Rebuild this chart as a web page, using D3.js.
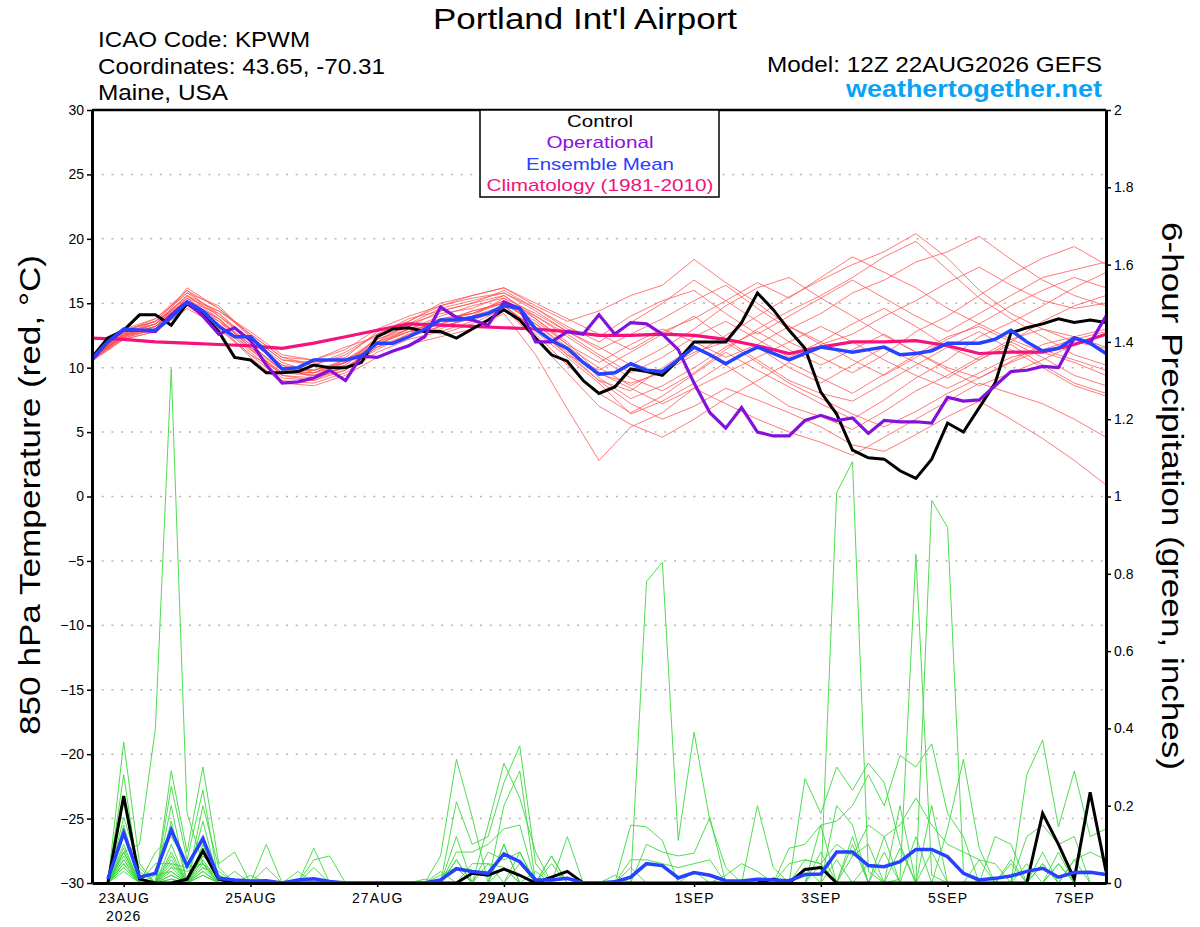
<!DOCTYPE html>
<html>
<head>
<meta charset="utf-8">
<script src="https://cdn.jsdelivr.net/npm/d3@7"></script>
<style>
  body { margin: 0; background: #fff; }
  svg text { font-family: "Liberation Sans", Arial, Helvetica, sans-serif; }
</style>
</head>
<body>
<svg id="chart" width="1200" height="927"></svg>
<script>
// Run start (first temperature value), 12Z 22AUG2026
var runStart = Date.UTC(2026, 7, 22, 12);

// 850 hPa temperature, 6-hourly from 22/12Z
var controlTemp = [10.8,12.3,12.9,14.1,14.1,13.3,15.0,14.1,12.8,10.8,10.6,9.6,9.6,9.7,10.2,10.0,10.0,10.4,12.4,13.0,13.1,
  12.8,12.8,12.3,13.0,13.7,14.5,13.7,12.3,11.0,10.5,9.0,8.0,8.5,9.9,9.7,9.4,10.6,12.0,12.0,
  12.0,13.5,15.8,14.5,12.9,11.5,8.1,6.4,3.6,3.0,2.9,2.0,1.4,2.9,5.7,5.0,6.9,8.8,12.7,13.1,13.4,13.8,13.5,13.7,13.5];
var operationalTemp = [10.6,12.0,12.9,12.9,12.8,14.1,15.1,14.0,12.6,13.1,12.1,10.2,8.8,8.9,9.2,9.8,9.0,10.9,10.8,11.3,11.7,
  12.4,14.7,13.9,13.7,13.3,15.1,14.6,12.0,12.0,12.8,12.6,14.1,12.6,13.5,13.4,12.6,11.4,8.8,6.5,
  5.3,6.9,5.0,4.7,4.7,5.9,6.3,5.9,6.1,4.9,5.9,5.8,5.8,5.7,7.7,7.4,7.5,8.6,9.7,9.8,10.1,10.0,12.3,11.9,14.0];
var meanTemp = [10.7,12.0,13.0,12.9,12.9,13.9,15.1,14.4,13.2,12.4,12.4,11.2,9.9,10.0,10.6,10.6,10.6,10.9,11.9,11.9,12.4,
  13.0,13.7,13.7,13.9,14.2,14.8,14.6,13.0,12.1,11.5,10.4,9.5,9.6,10.3,9.8,9.7,10.6,11.6,11.0,
  10.3,11.0,11.6,11.1,10.6,11.1,11.6,11.4,11.2,11.4,11.6,11.0,11.1,11.3,11.9,11.9,11.9,12.2,12.9,12.0,11.3,11.5,12.3,11.9,11.1];
// climatology, 12-hourly from 22/12Z
var climoTemp = [12.3,12.2,12.0,11.9,11.8,11.7,11.5,11.9,12.4,12.9,13.4,13.3,13.2,13.1,13.0,12.8,12.5,12.5,12.6,12.5,
  12.2,11.7,11.1,11.6,12.0,12.0,12.1,11.7,11.1,11.2,11.2,11.8,12.6];

// ensemble members temperature, 12-hourly from 22/12Z
var memberTemp = [
  [10.8,12.6,13.2,15.6,13.8,11.5,9.6,9.8,10.4,12.2,13.0,13.8,14.2,15.2,13.8,12.0,9.5,8.8,9.6,11.0,12.5,14.0,15.5,16.8,18.0,19.0,20.4,18.5,16.0,14.2,13.0,12.0,11.5],
  [10.6,12.8,13.6,15.2,14.2,12.0,10.2,9.2,9.8,11.6,12.4,13.2,13.8,14.6,12.6,10.2,8.0,6.5,7.8,9.5,11.2,9.8,8.5,7.2,6.0,7.5,9.2,10.6,12.4,13.5,14.8,16.2,17.4],
  [11.0,12.4,13.0,16.2,14.6,12.6,10.8,10.2,11.2,12.6,13.8,14.4,15.0,16.0,14.6,13.2,12.0,13.5,15.0,16.8,15.2,13.6,12.0,10.8,9.6,11.0,12.8,14.0,15.6,17.2,18.5,19.4,18.0],
  [10.5,12.2,12.8,14.8,13.2,11.0,9.0,8.8,9.6,11.2,12.2,12.8,13.6,14.8,13.0,11.2,9.0,7.2,6.0,7.0,8.4,7.5,6.5,5.4,4.0,3.5,4.8,6.2,7.4,6.0,4.5,2.8,0.9],
  [10.9,13.0,13.8,15.8,14.8,12.4,10.6,10.4,10.8,12.8,13.6,14.8,15.4,15.8,14.4,12.8,11.6,10.2,11.5,13.0,14.8,16.2,17.0,15.4,14.0,12.5,11.2,10.0,9.2,10.5,11.8,12.4,13.0],
  [10.7,12.5,13.4,15.0,13.6,11.8,9.8,9.4,10.0,11.8,12.8,13.0,14.0,15.4,13.2,11.0,9.8,11.2,12.6,14.0,12.2,10.6,9.0,8.0,7.4,8.8,10.2,11.6,12.8,11.4,10.0,8.6,7.8],
  [10.6,12.9,13.6,16.0,14.0,12.2,10.4,9.6,10.6,12.0,13.4,14.2,14.6,15.6,14.0,12.4,10.8,9.2,8.2,9.6,11.4,13.0,14.4,15.6,17.0,18.6,19.8,17.6,15.4,13.8,12.4,11.0,10.2],
  [10.8,12.3,13.0,15.4,13.4,11.2,9.2,9.0,10.2,12.4,13.2,12.6,13.4,14.6,12.2,9.6,7.0,5.6,4.6,6.0,7.6,9.0,10.4,9.2,8.0,9.5,11.0,12.4,13.2,12.0,10.8,9.4,8.6],
  [10.9,12.7,13.4,15.6,14.4,12.8,11.0,10.6,11.6,12.4,13.6,15.0,15.6,16.2,14.8,13.6,14.4,15.6,16.4,18.4,16.6,15.0,13.2,11.8,12.6,14.0,15.2,16.6,17.8,16.4,15.2,14.6,15.0],
  [10.6,12.4,13.2,15.2,13.8,11.6,9.4,9.2,10.0,11.4,12.6,13.4,14.4,15.0,13.4,11.6,10.0,8.6,9.8,11.2,12.0,10.4,8.8,7.6,6.4,5.4,6.6,8.0,9.2,10.4,11.4,10.6,9.8],
  [10.7,12.6,13.6,15.8,14.2,12.2,10.0,9.8,10.4,11.8,13.0,14.0,14.8,15.4,14.2,12.8,11.4,12.6,13.8,15.2,16.4,14.6,13.0,14.2,15.8,16.8,18.2,19.0,20.2,18.4,16.8,15.6,14.8],
  [10.8,12.5,13.2,15.0,13.0,11.0,9.6,9.6,10.2,12.0,12.8,13.6,14.2,15.0,13.6,11.8,9.2,7.6,8.6,10.0,11.6,12.8,11.4,10.2,11.4,12.6,11.2,9.8,8.6,9.6,10.6,11.8,12.6],
  [10.6,12.2,12.8,14.6,13.2,10.8,8.8,8.6,9.4,10.8,11.8,12.4,13.0,14.2,11.0,6.8,2.8,5.4,6.5,8.4,7.2,6.0,5.0,4.2,3.2,4.6,6.0,7.4,8.8,8.0,7.2,6.0,4.6],
  [11.0,12.8,13.8,16.0,14.6,12.4,10.6,10.2,11.0,12.6,13.4,14.6,15.2,15.8,14.6,13.0,12.4,14.0,15.2,16.0,14.2,12.6,14.0,15.4,16.8,15.4,14.0,12.8,14.2,15.6,17.0,17.6,18.2],
  [10.5,12.6,13.0,15.4,13.6,11.4,9.4,9.0,9.8,11.6,12.4,13.2,13.8,14.8,13.0,11.0,9.0,8.2,10.0,11.6,10.2,8.6,7.0,6.2,5.2,6.6,8.2,9.4,10.8,12.2,13.0,12.4,11.6],
  [10.7,12.4,13.2,15.2,13.8,11.8,9.8,9.4,10.0,11.6,12.6,13.8,14.2,15.2,14.0,12.6,11.0,9.6,10.8,12.4,13.6,12.2,10.8,12.0,13.4,14.6,13.2,11.6,10.6,12.0,13.6,14.8,15.6],
  [10.8,12.7,13.4,15.6,14.0,12.0,10.2,9.8,10.6,12.2,13.2,14.4,15.0,15.6,13.8,11.8,10.4,11.8,13.0,12.0,10.8,11.8,13.2,12.0,10.6,9.4,10.8,12.2,13.4,12.2,11.2,10.4,9.4],
  [10.6,12.3,13.0,15.0,13.4,11.4,9.6,9.4,10.4,12.0,13.0,13.4,14.0,14.8,12.8,10.8,8.8,6.4,7.4,8.8,10.4,11.6,10.0,8.8,10.2,11.6,10.4,9.2,10.6,11.8,10.2,8.8,8.0],
  [10.9,12.9,13.6,15.4,14.4,12.6,10.8,10.6,11.4,13.0,14.0,14.8,15.6,16.2,15.0,13.8,12.6,11.4,12.8,13.8,15.2,16.6,15.4,17.0,18.6,17.4,16.2,14.6,13.4,14.8,16.0,17.0,16.2],
  [10.7,12.5,13.4,15.2,13.8,11.6,9.8,9.6,10.4,11.8,12.8,13.6,14.4,15.0,13.4,11.4,9.6,8.4,7.2,8.4,9.6,10.8,12.0,13.2,12.0,10.6,9.4,8.4,9.6,10.8,11.4,12.2,12.8]
];

// 6-hour precipitation (inches), 6-hourly from 22/18Z
var controlPrecip = [0, .225,.01,0,0, .01,.083,.01,0, 0,0,0,0, 0,0,0,0, 0,0,0,0, 0,0,.025,.02, .036,.02,0,.015, .03,0,0,0,
  0,0,0,0, 0,0,0,0, 0,.01,0,.035, .04,0,0,0, 0,0,0,0, 0,0,0,0, 0,0,.18,.1, .01,.235,.03];
var meanPrecip = [.01, .13,.015,.025,.137, .044,.115,.012,.008, .005,.006,0,.008, .011,.004,0,0, 0,0,0,0, .008,.037,.03,.025,
  .075,.055,.008,.008, .012,0,0,.003, .015,.05,.045,.013, .027,.02,.006,.005, .01,.008,.006,.022, .023,.08,.08,.045,
  .042,.055,.087,.087, .068,.025,.008,.012, .018,.03,.038,.015, .027,.028,.022];
var memberPrecip = [
  [0, .08,.1,.4,1.33, .18,.05,0,0, 0,0,0,0, 0,0,0,0, 0,0,0,0, 0,.06,0,0, .1,0,0,0, 0,0,0,0, .04,0,0,0, 0,0,0,0, 0,0,0,0, 0,.06,0,0, 0,0,.12,0, 0,0,0,0, 0,.05,0,0, 0,0,0],
  [0, .365,.05,0,.29, .08,.3,.05,.08, 0,0,0,0, 0,0,0,0, 0,0,0,0, .07,.32,.17,0, .04,0,0,0, 0,0,0,0, 0,0,0,0, 0,0,0,0, 0,0,0,.04, 0,0,0,0, .08,0,0,0, 0,0,0,0, 0,0,.08,0, 0,0,0],
  [0, .28,0,0,.25, .06,.24,0,0, 0,.1,0,0, 0,0,0,0, 0,0,0,0, 0,0,0,.15, .31,.22,.08,0, .12,0,0,0, 0,0,0,0, 0,0,0,0, 0,0,0,0, .08,0,.12,0, 0,.2,0,.2, 0,0,0,0, 0,.28,.37,.145, .29,.12,.14],
  [0, .21,0,0,.2, 0,.2,.04,0, 0,0,0,0, .09,0,0,0, 0,0,0,0, 0,.21,.1,.12, .26,.355,.05,0, 0,0,0,0, .15,.145,.11,0, 0,0,0,0, 0,0,0,.27, .18,.3,.24,.31, .26,.1,0,0, 0,0,0,0, 0,0,0,0, 0,0,0],
  [0, .17,.04,0,.16, 0,.16,0,0, 0,0,0,0, .06,.07,0,0, 0,0,0,0, 0,.12,0,0, .2,.29,0,.07, 0,0,0,0, 0,.78,.83,.11, .39,.16,.04,0, 0,0,0,0, 0,0,0,0, 0,0,0,0, .14,.32,.09,0, 0,0,0,0, 0,0,0],
  [0, .15,0,.08,.12, .05,.12,0,0, 0,0,0,0, 0,0,0,0, 0,0,0,0, 0,.08,.08,.1, .14,.15,0,0, 0,0,0,0, 0,0,0,0, 0,0,0,0, .2,.04,0,0, 0,1.01,1.09,.03, 0,0,0,0, 0,0,0,.12, .1,0,0,0, 0,0,0],
  [0, .13,0,0,.1, 0,.1,0,0, .02,0,0,0, 0,0,0,0, 0,0,0,0, 0,0,0,.08, .06,.08,0,.05, 0,0,0,0, 0,.1,.08,.07, .077,.17,0,0, 0,0,.09,.1, .15,.16,.2,.28, .2,.33,.3,.36, .18,.12,0,0, 0,0,0,0, 0,0,0],
  [0, .12,.03,0,.08, 0,.09,0,0, 0,0,0,.03, 0,0,0,0, 0,0,0,0, 0,0,.05,.05, .04,0,.03,0, 0,0,0,0, .06,.06,.05,.04, .05,.06,0,0, 0,0,0,0, 0,0,0,0, 0,.01,.85,.02, 0,0,0,0, 0,0,0,0, .06,.08,.06],
  [0, .1,0,0,.07, 0,.08,0,.03, 0,0,0,0, .04,0,0,0, 0,0,0,0, 0,.04,0,0, 0,.05,0,0, .03,0,0,.02, 0,0,0,0, 0,0,0,0, 0,0,0,0, 0,0,0,0, 0,0,0,.99, .92,.03,0,0, 0,.12,.15,.1, .12,0,0],
  [0, .09,0,0,.06, 0,.07,.03,0, 0,0,0,0, 0,0,0,0, 0,0,0,0, .03,0,0,0, 0,0,0,0, 0,0,0,0, 0,0,0,0, 0,0,0,0, 0,0,.05,.06, .05,.1,.07,.15, .12,.15,.22,.15, .1,.08,.06,.05, 0,0,0,0, 0,0,0],
  [0, .08,0,.05,.05, 0,.06,0,0, 0,.04,0,0, 0,0,0,0, 0,0,0,0, .02,.04,0,.05, 0,0,0,0, 0,0,0,0, 0,0,0,0, 0,0,.02,.05, .03,0,0,0, 0,0,0,0, 0,0,0,.08, 0,0,0,0, .06,0,0,.05, 0,0,0],
  [0, .08,0,0,.05, .04,.05,.02,0, 0,0,0,0, 0,0,0,0, 0,0,0,0, 0,0,0,0, 0,.08,0,0, 0,0,0,0, 0,0,0,0, 0,0,0,0, 0,0,0,0, 0,0,.07,.1, 0,0,0,0, 0,0,.06,0, 0,0,0,0, 0,0,0],
  [0, .07,0,0,.04, 0,.05,0,0, 0,0,0,0, 0,0,0,0, 0,0,0,0, 0,0,0,0, 0,0,0,.07, 0,0,0,0, 0,0,0,0, 0,0,0,0, 0,0,0,0, .05,0,0,.05, 0,0,0,0, 0,0,0,0, 0,0,.05,0, .06,0,0],
  [0, .06,0,0,.04, .03,.05,0,0, 0,0,0,0, 0,0,0,0, 0,0,0,0, 0,.06,0,0, 0,0,0,0, 0,0,0,0, 0,0,0,0, .03,0,0,0, 0,0,0,0, 0,0,0,0, .12,0,0,0, 0,0,0,0, 0,0,.05,0, 0,0,0],
  [0, .06,0,.02,.03, 0,.04,.02,0, 0,0,0,0, 0,0,0,0, 0,0,0,.01, 0,0,0,0, 0,0,0,0, 0,0,0,0, 0,0,0,0, 0,0,0,0, 0,0,0,0, 0,.2,.15,0, 0,0,0,0, 0,0,0,0, 0,0,0,0, 0,0,0],
  [0, .05,0,0,.03, 0,.04,0,0, 0,0,0,0, 0,0,0,0, 0,0,0,0, 0,0,0,0, .1,0,0,0, 0,0,0,0, 0,0,0,0, 0,0,0,0, 0,0,0,0, 0,0,0,0, 0,.09,0,0, 0,0,0,0, 0,0,0,0, 0,0,0],
  [0, .05,0,0,.02, 0,.03,0,0, 0,0,0,0, 0,0,0,0, 0,0,0,0, 0,0,0,0, 0,0,0,0, 0,0,0,0, 0,0,0,0, 0,0,0,0, 0,0,0,.06, .05,0,.1,0, 0,0,0,0, 0,0,0,0, .05,0,0,.05, 0,0,0],
  [0, .04,0,0,.02, 0,.03,0,0, 0,0,0,0, 0,0,0,0, 0,0,0,0, 0,0,0,0, 0,0,0,0, 0,0,0,0, 0,0,0,0, 0,0,0,0, 0,0,0,0, .15,0,0,0, 0,0,0,0, 0,0,0,0, 0,0,0,0, 0,0,0],
  [0, .04,0,0,.01, 0,.02,0,0, 0,0,0,0, 0,0,0,0, 0,0,0,0, 0,0,0,0, 0,0,0,0, 0,0,0,0, 0,0,0,0, 0,0,0,0, 0,0,0,0, 0,0,0,0, 0,0,0,0, 0,0,0,0, 0,0,0,.08, 0,0,0],
  [0, .03,0,0,.01, 0,.02,0,0, 0,0,0,0, 0,0,0,0, 0,0,0,0, 0,0,0,0, 0,0,0,0, 0,0,0,0, 0,0,0,0, 0,0,0,0, 0,0,0,0, 0,0,0,0, 0,0,0,0, 0,0,0,0, 0,0,0,0, 0,0,0]
];

// axis ticks
var dateTicks = [Date.UTC(2026,7,23), Date.UTC(2026,7,25), Date.UTC(2026,7,27), Date.UTC(2026,7,29),
  Date.UTC(2026,8,1), Date.UTC(2026,8,3), Date.UTC(2026,8,5), Date.UTC(2026,8,7)];
var dateLabels = ["23AUG", "25AUG", "27AUG", "29AUG", "1SEP", "3SEP", "5SEP", "7SEP"];
var tempTicks = [30, 25, 20, 15, 10, 5, 0, -5, -10, -15, -20, -25, -30];
var precipTicks = [0, 0.2, 0.4, 0.6, 0.8, 1, 1.2, 1.4, 1.6, 1.8, 2];

// chart area
var plot = { left: 92, right: 1106, top: 110, bottom: 883 };

var svg = d3.select("#chart");

var x = d3.scaleUtc()
  .domain([new Date(runStart), new Date(runStart + 16 * 24 * 3600e3)])
  .range([plot.left, plot.right]);
var yTemp = d3.scaleLinear().domain([-30, 30]).range([plot.bottom, plot.top]);
var yPrecip = d3.scaleLinear().domain([0, 2]).range([plot.bottom, plot.top]);

// turn a value list into dated points
function toPoints(vals, startH, stepH) {
  return vals.map(function(v, i) {
    return { t: new Date(runStart + (startH + i * stepH) * 3600e3), v: v };
  });
}

var tempLine = d3.line().x(d => x(d.t)).y(d => yTemp(d.v));
var precipLine = d3.line().x(d => x(d.t)).y(d => yPrecip(d.v));

// dotted grid
svg.append("g")
  .selectAll("line")
  .data(tempTicks.filter(d => d > -30 && d < 30))
  .enter().append("line")
  .attr("x1", plot.left).attr("x2", plot.right)
  .attr("y1", d => yTemp(d)).attr("y2", d => yTemp(d))
  .attr("stroke", "#b4b4b4")
  .attr("stroke-width", 1.5)
  .attr("stroke-dasharray", "2,7.7");

var lines = svg.append("g");

// precipitation members
memberPrecip.forEach(function(m) {
  lines.append("path")
    .attr("d", precipLine(toPoints(m, 6, 6)))
    .attr("fill", "none")
    .attr("stroke", "#3cd83c")
    .attr("stroke-width", 0.9);
});

// temperature members
memberTemp.forEach(function(m) {
  lines.append("path")
    .attr("d", tempLine(toPoints(m, 0, 12)))
    .attr("fill", "none")
    .attr("stroke", "#ff5050")
    .attr("stroke-opacity", 0.85)
    .attr("stroke-width", 0.9);
});

// climatology
lines.append("path")
  .attr("d", tempLine(toPoints(climoTemp, 0, 12)))
  .attr("fill", "none").attr("stroke", "#f5127c").attr("stroke-width", 3.2);

// control, operational, mean
lines.append("path")
  .attr("d", precipLine(toPoints(controlPrecip, 6, 6)))
  .attr("fill", "none").attr("stroke", "#000").attr("stroke-width", 3);
lines.append("path")
  .attr("d", tempLine(toPoints(controlTemp, 0, 6)))
  .attr("fill", "none").attr("stroke", "#000").attr("stroke-width", 3);
lines.append("path")
  .attr("d", tempLine(toPoints(operationalTemp, 0, 6)))
  .attr("fill", "none").attr("stroke", "#8410dc").attr("stroke-width", 3.2);
lines.append("path")
  .attr("d", precipLine(toPoints(meanPrecip, 6, 6)))
  .attr("fill", "none").attr("stroke", "#2442ff").attr("stroke-width", 3.5);
lines.append("path")
  .attr("d", tempLine(toPoints(meanTemp, 0, 6)))
  .attr("fill", "none").attr("stroke", "#2442ff").attr("stroke-width", 3.5);

// axes
var leftAxis = svg.append("g")
  .attr("transform", `translate(${plot.left},0)`)
  .call(d3.axisLeft(yTemp).tickValues(tempTicks).tickSize(5).tickPadding(3).tickSizeOuter(0));
var rightAxis = svg.append("g")
  .attr("transform", `translate(${plot.right},0)`)
  .call(d3.axisRight(yPrecip).tickValues(precipTicks).tickSize(5).tickPadding(3).tickSizeOuter(0)
    .tickFormat(d3.format("")));
var bottomAxis = svg.append("g")
  .attr("transform", `translate(0,${plot.bottom})`)
  .call(d3.axisBottom(x).tickValues(dateTicks.map(d => new Date(d)))
    .tickFormat((d, i) => dateLabels[i]).tickSize(4).tickPadding(6).tickSizeOuter(0));

[leftAxis, rightAxis, bottomAxis].forEach(function(a) {
  a.select(".domain").attr("stroke-width", 3);
  a.selectAll(".tick line").attr("stroke-width", 1.5);
  a.selectAll("text").attr("font-size", 14).attr("fill", "#000")
    .attr("font-family", "Liberation Sans, Arial, sans-serif");
});
bottomAxis.selectAll("text").attr("letter-spacing", 1.1);

// top border
svg.append("line")
  .attr("x1", plot.left).attr("x2", plot.right)
  .attr("y1", plot.top).attr("y2", plot.top)
  .attr("stroke", "#000").attr("stroke-width", 2.5);

svg.append("text")
  .attr("x", x(new Date(dateTicks[0]))).attr("y", 921)
  .attr("text-anchor", "middle").attr("font-size", 14)
  .attr("letter-spacing", 1.1)
  .text("2026");

// legend
var legend = svg.append("g");
legend.append("rect")
  .attr("x", 480).attr("y", plot.top).attr("width", 239).attr("height", 87)
  .attr("fill", "#fff").attr("stroke", "#000").attr("stroke-width", 1.5);
var legendItems = [
  { name: "Control", color: "#000", y: 127, w: 66 },
  { name: "Operational", color: "#8a10e0", y: 148, w: 107 },
  { name: "Ensemble Mean", color: "#2a40ff", y: 170, w: 148 },
  { name: "Climatology (1981-2010)", color: "#f0147a", y: 191, w: 227 }
];
legend.selectAll("text.item")
  .data(legendItems)
  .enter().append("text")
  .attr("class", "item")
  .attr("x", 600).attr("y", d => d.y)
  .attr("text-anchor", "middle")
  .attr("font-size", 17)
  .attr("textLength", d => d.w)
  .attr("lengthAdjust", "spacingAndGlyphs")
  .attr("fill", d => d.color)
  .text(d => d.name);

// titles
svg.append("text")
  .attr("x", 585).attr("y", 29)
  .attr("text-anchor", "middle").attr("font-size", 30)
  .attr("textLength", 304).attr("lengthAdjust", "spacingAndGlyphs")
  .text("Portland Int'l Airport");

var info = [
  { t: "ICAO Code: KPWM", y: 47, w: 212 },
  { t: "Coordinates: 43.65, -70.31", y: 74, w: 287 },
  { t: "Maine, USA", y: 100, w: 130 }
];
info.forEach(function(d) {
  svg.append("text")
    .attr("x", 98).attr("y", d.y)
    .attr("font-size", 22)
    .attr("textLength", d.w).attr("lengthAdjust", "spacingAndGlyphs")
    .text(d.t);
});

svg.append("text")
  .attr("x", 1102).attr("y", 72)
  .attr("text-anchor", "end").attr("font-size", 22)
  .attr("textLength", 335).attr("lengthAdjust", "spacingAndGlyphs")
  .text("Model: 12Z 22AUG2026 GEFS");
svg.append("text")
  .attr("x", 1102).attr("y", 97)
  .attr("text-anchor", "end").attr("font-size", 23).attr("font-weight", "bold")
  .attr("fill", "#0aa2f5")
  .attr("textLength", 256).attr("lengthAdjust", "spacingAndGlyphs")
  .text("weathertogether.net");

// axis titles
svg.append("text")
  .attr("transform", "translate(40,495) rotate(-90)")
  .attr("text-anchor", "middle").attr("font-size", 29)
  .attr("textLength", 480).attr("lengthAdjust", "spacingAndGlyphs")
  .text("850 hPa Temperature (red, °C)");
svg.append("text")
  .attr("transform", "translate(1162,496) rotate(90)")
  .attr("text-anchor", "middle").attr("font-size", 29)
  .attr("textLength", 548).attr("lengthAdjust", "spacingAndGlyphs")
  .text("6-hour Precipitation (green, inches)");
</script>
</body>
</html>
